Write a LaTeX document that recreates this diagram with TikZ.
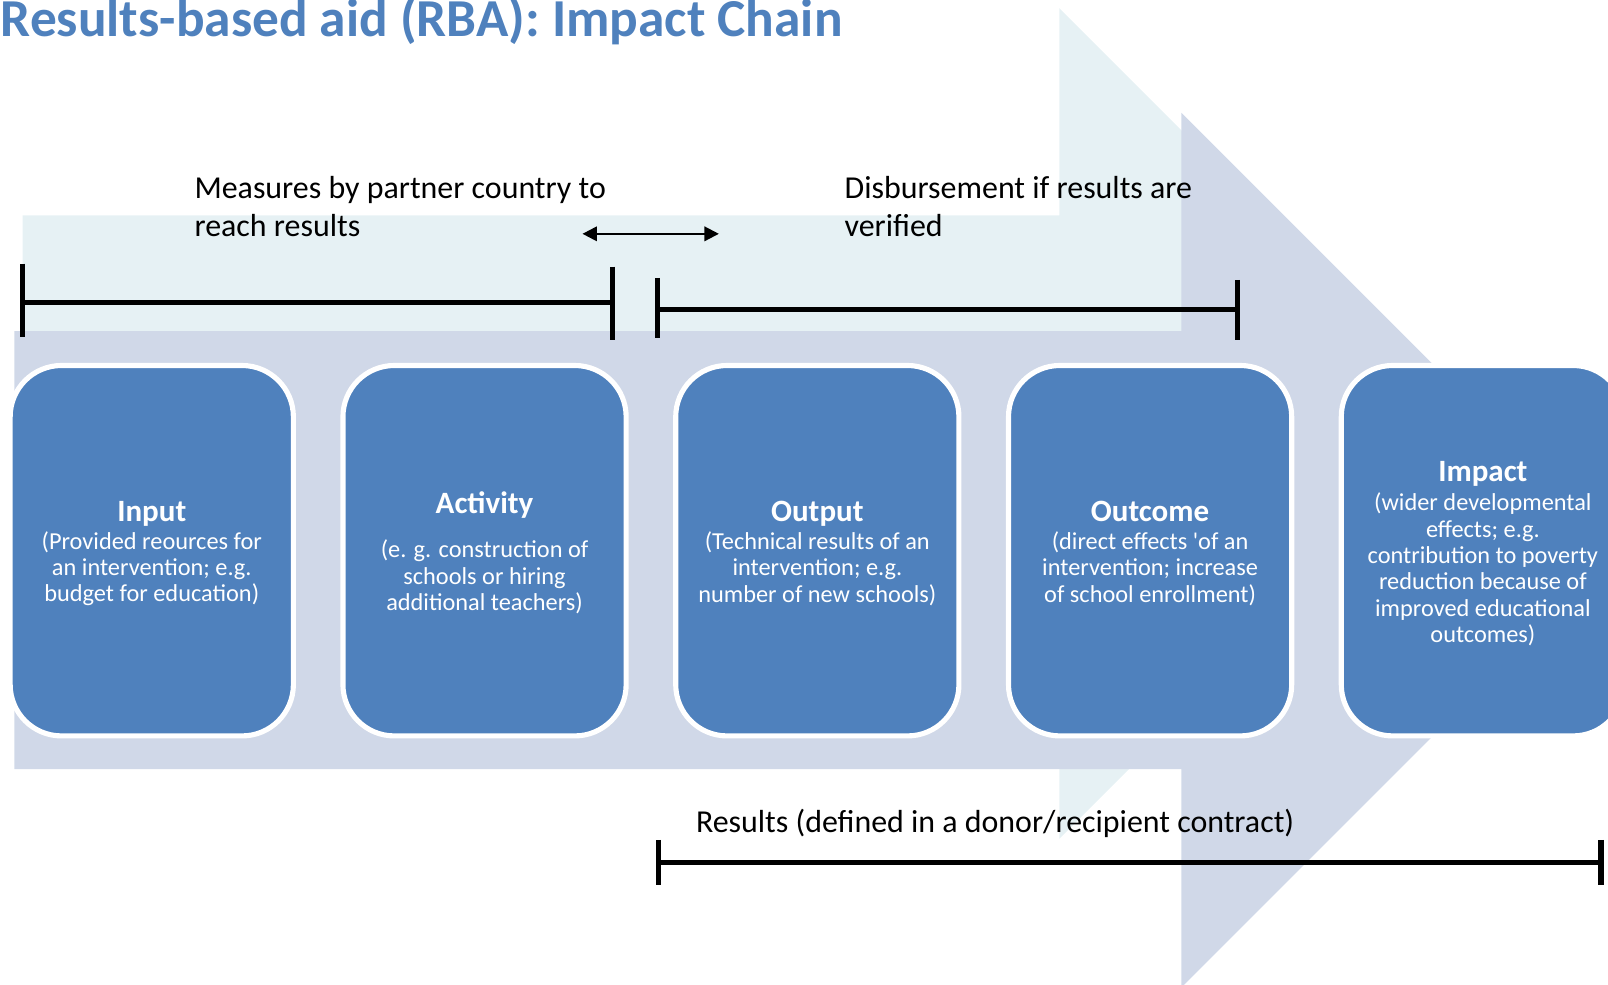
\documentclass[tikz,border=0pt]{standalone}
\usepackage{fontspec}
\setmainfont{Carlito}
\usetikzlibrary{arrows.meta}
\definecolor{chainblue}{HTML}{4F81BD}
\definecolor{chainpale}{HTML}{E6F1F4}
\definecolor{chainlav}{HTML}{D0D8E8}
\newcommand{\stagehead}[1]{{\fontsize{8.6}{10}\selectfont\bfseries\rule{0pt}{7.2pt}#1}}
\tikzset{
  stage/.style={draw=white, line width=1.42pt, fill=chainblue, rounded corners=0.5cm,
    minimum width=2.76cm, minimum height=3.61cm, inner sep=0pt, text=white,
    align=center, font=\fontsize{6.75}{7.3}\selectfont},
  note/.style={inner sep=0pt, align=left, font=\fontsize{8.85}{10.5}\selectfont},
  bracketline/.style={line width=1.5pt},
}

\begin{document}
\begin{tikzpicture}[x=0.01cm,y=-0.01cm]
  \useasboundingbox (0,0) rectangle (1568,960);
  \clip (0,0) rectangle (1568,960);

  \fill[chainpale] (22,210) -- (1033,210) -- (1033,8) -- (1438,413) -- (1033,818)
    -- (1033,616) -- (22,616) -- cycle;
  \fill[chainlav] (14,323) -- (1152,323) -- (1152,110) -- (1578.5,536.5) -- (1152,963)
    -- (1152,750) -- (14,750) -- cycle;

  \node[anchor=base west, inner sep=0pt, text=chainblue,
    font=\fontsize{14.8}{17}\selectfont\bfseries] (title) at (0,36)
    {Results-based aid (RBA): Impact Chain};

  \node[note, anchor=north west] (measures) at (189,171)
    {Measures by partner country to\\reach results};
  \node[note, anchor=north west] (disburse) at (823,171)
    {Disbursement if results are\\verified};
  \node[note, anchor=base west] (results) at (678,812)
    {Results (defined in a donor/recipient contract)};

  \coordinate (gap-l) at (568,228);
  \coordinate (gap-r) at (701,228);
  \draw[line width=0.6pt, {Triangle[length=4pt,width=4pt]}-{Triangle[length=4pt,width=4pt]}]
    (gap-l) -- (gap-r);

  \draw[bracketline] (22,257) -- (22,329) (22,295) -- (597,295) (597,260) -- (597,332);
  \draw[bracketline] (641,271) -- (641,330) (641,302) -- (1207,302) (1207,273) -- (1207,332);
  \draw[bracketline] (642,819) -- (642,863) (642,841) -- (1561,841) (1561,819) -- (1561,863);

  \node[stage] (input) at (148,537)
    {\stagehead{Input}\\[0.4pt](Provided reources for\\an intervention; e.g.\\budget for education)};
  \node[stage] (activity) at (472.5,537)
    {\stagehead{Activity}\\[5pt](e. g. construction of\\schools or hiring\\additional teachers)};
  \node[stage] (output) at (797,537)
    {\stagehead{Output}\\[0.4pt](Technical results of an\\intervention; e.g.\\number of new schools)};
  \node[stage] (outcome) at (1121.5,537)
    {\stagehead{Outcome}\\[0.4pt](direct effects \textquotesingle of an\\intervention; increase\\of school enrollment)};
  \node[stage] (impact) at (1446,537)
    {\stagehead{Impact}\\[0.8pt](wider developmental\\effects; e.g.\\contribution to poverty\\reduction because of\\improved educational\\outcomes)};
\end{tikzpicture}
\end{document}
